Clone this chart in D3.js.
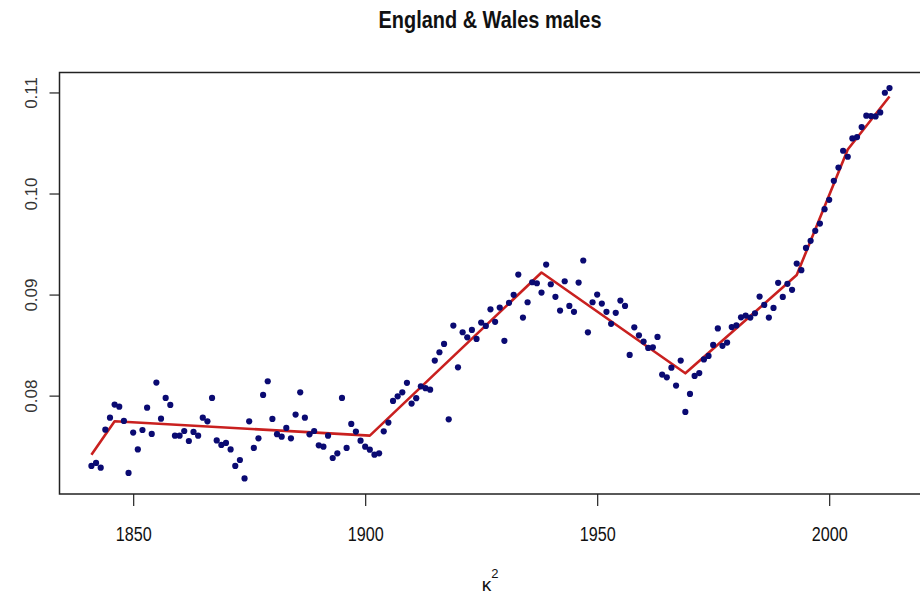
<!DOCTYPE html>
<html>
<head>
<meta charset="utf-8">
<script src="https://cdn.jsdelivr.net/npm/d3@7"></script>
<style>
  body { margin: 0; background: #fff; }
  svg { display: block; }
</style>
</head>
<body>
<svg id="chart" width="920" height="597"></svg>
<script>
// kappa2 estimates, one per year from 1841
const firstYear = 1841;
const kappaValues = [
  0.07304, 0.07334, 0.07287, 0.07663, 0.07782, 0.07911, 0.07891, 0.07750, 0.07235, 0.07634,
  0.07468, 0.07660, 0.07881, 0.07621, 0.08129, 0.07772, 0.07977, 0.07908, 0.07604, 0.07604,
  0.07650, 0.07551, 0.07641, 0.07604, 0.07782, 0.07746, 0.07977, 0.07557, 0.07512, 0.07532,
  0.07468, 0.07304, 0.07363, 0.07181, 0.07746, 0.07482, 0.07577, 0.08007, 0.08142, 0.07769,
  0.07619, 0.07594, 0.07680, 0.07577, 0.07812, 0.08033, 0.07782, 0.07617, 0.07650, 0.07508,
  0.07495, 0.07604, 0.07383, 0.07429, 0.07977, 0.07482, 0.07720, 0.07644, 0.07554, 0.07495,
  0.07465, 0.07416, 0.07429, 0.07647, 0.07733, 0.07948, 0.07993, 0.08033, 0.08127, 0.07921,
  0.07975, 0.08092, 0.08074, 0.08059, 0.08347, 0.08429, 0.08512, 0.07765, 0.08693, 0.08280,
  0.08627, 0.08577, 0.08650, 0.08561, 0.08723, 0.08690, 0.08854, 0.08730, 0.08871, 0.08542,
  0.08918, 0.08997, 0.09198, 0.08772, 0.08924, 0.09122, 0.09112, 0.09020, 0.09297, 0.09102,
  0.08978, 0.08842, 0.09132, 0.08888, 0.08829, 0.09119, 0.09337, 0.08626, 0.08924, 0.09000,
  0.08911, 0.08829, 0.08710, 0.08819, 0.08941, 0.08888, 0.08403, 0.08676, 0.08597, 0.08535,
  0.08472, 0.08478, 0.08581, 0.08208, 0.08181, 0.08277, 0.08099, 0.08347, 0.07839, 0.08017,
  0.08195, 0.08223, 0.08358, 0.08393, 0.08502, 0.08665, 0.08493, 0.08525, 0.08678, 0.08695,
  0.08775, 0.08792, 0.08772, 0.08815, 0.08980, 0.08898, 0.08772, 0.08868, 0.09116, 0.08977,
  0.09106, 0.09047, 0.09307, 0.09241, 0.09462, 0.09532, 0.09631, 0.09703, 0.09845, 0.09938,
  0.10126, 0.10257, 0.10423, 0.10364, 0.10545, 0.10558, 0.10657, 0.10770, 0.10766, 0.10763,
  0.10802, 0.10997, 0.11043
];

// piecewise linear fit (break years)
const fitYears = [1841, 1846, 1901, 1938, 1969, 1993, 2004, 2013];
const fitValues = [0.07416, 0.07746, 0.07604, 0.09218, 0.08221, 0.09193, 0.10436, 0.10960];

const xTicks = [1850, 1900, 1950, 2000];
const yTicks = [0.08, 0.09, 0.10, 0.11];

const titleText = "England & Wales males";

let years = kappaValues.map((v, i) => firstYear + i);
let points = years.map((yr, i) => [yr, kappaValues[i]]);
let fitLine = fitYears.map((yr, i) => [yr, fitValues[i]]);

// R style limits: data range widened by 4%
function rRange(ext) {
  let d = (ext[1] - ext[0]) * 0.04;
  return [ext[0] - d, ext[1] + d];
}

let plotLeft = 59.5, plotTop = 72.5, plotBottom = 494;
let pxPerYear = 4.64;
let xlim = rRange(d3.extent(years));
let ylim = rRange(d3.extent(kappaValues));

let x = d3.scaleLinear()
  .domain(xlim)
  .range([plotLeft, plotLeft + (xlim[1] - xlim[0]) * pxPerYear]);

let y = d3.scaleLinear()
  .domain(ylim)
  .range([plotBottom, plotTop]);

let svg = d3.select("#chart");

svg.append("rect")
  .attr("width", 920)
  .attr("height", 597)
  .attr("fill", "#fff");

// title
svg.append("text")
  .attr("x", 490)
  .attr("y", 28)
  .attr("text-anchor", "middle")
  .attr("textLength", 223)
  .attr("lengthAdjust", "spacingAndGlyphs")
  .text(titleText)
  .style("font-family", "Liberation Sans, Arial, sans-serif")
  .style("font-weight", "bold")
  .style("font-size", "23px")
  .style("fill", "#111");

// fitted line
svg.append("path")
  .datum(fitLine)
  .attr("fill", "none")
  .attr("stroke", "#c9201f")
  .attr("stroke-width", 2.6)
  .attr("stroke-linejoin", "round")
  .attr("d", d3.line()
    .x(d => x(d[0]))
    .y(d => y(d[1])));

// points
svg.append("g")
  .selectAll("circle")
  .data(points)
  .enter()
  .append("circle")
  .attr("cx", d => x(d[0]))
  .attr("cy", d => y(d[1]))
  .attr("r", 3.1)
  .style("fill", "#0a0a72");

// plot box
svg.append("rect")
  .attr("x", plotLeft)
  .attr("y", plotTop)
  .attr("width", x.range()[1] - plotLeft)
  .attr("height", plotBottom - plotTop)
  .attr("fill", "none")
  .attr("stroke", "#222")
  .attr("stroke-width", 1.5);

// x axis
let xAxis = svg.append("g")
  .attr("transform", "translate(0," + plotBottom + ")")
  .call(d3.axisBottom(x).tickValues(xTicks).tickFormat(d3.format("d")).tickSize(12));
xAxis.select(".domain").remove();
xAxis.selectAll("line").attr("stroke", "#222").attr("stroke-width", 1.2);
xAxis.selectAll("text")
  .attr("y", 47)
  .attr("dy", 0)
  .attr("textLength", 36)
  .attr("lengthAdjust", "spacingAndGlyphs")
  .style("font-family", "Liberation Sans, Arial, sans-serif")
  .style("font-size", "20px")
  .style("fill", "#111");

// y axis
let yAxis = svg.append("g")
  .attr("transform", "translate(" + plotLeft + ",0)")
  .call(d3.axisLeft(y).tickValues(yTicks).tickFormat(d3.format(".2f")).tickSize(10));
yAxis.select(".domain").remove();
yAxis.selectAll("line").attr("stroke", "#222").attr("stroke-width", 1.2);
yAxis.selectAll("text")
  .attr("x", 0)
  .attr("dy", 0)
  .attr("text-anchor", "middle")
  .attr("transform", "translate(-22.5,0) rotate(-90)")
  .style("font-family", "Liberation Sans, Arial, sans-serif")
  .style("font-size", "17px")
  .style("fill", "#333");

// x label: kappa squared
let xlab = svg.append("text")
  .attr("x", 490)
  .attr("y", 591)
  .attr("text-anchor", "middle")
  .style("font-family", "Liberation Sans, Arial, sans-serif")
  .style("font-size", "19px")
  .style("fill", "#111");
xlab.append("tspan").text("\u03BA");
xlab.append("tspan")
  .attr("dy", -13)
  .style("font-size", "13px")
  .text("2");
</script>
</body>
</html>
